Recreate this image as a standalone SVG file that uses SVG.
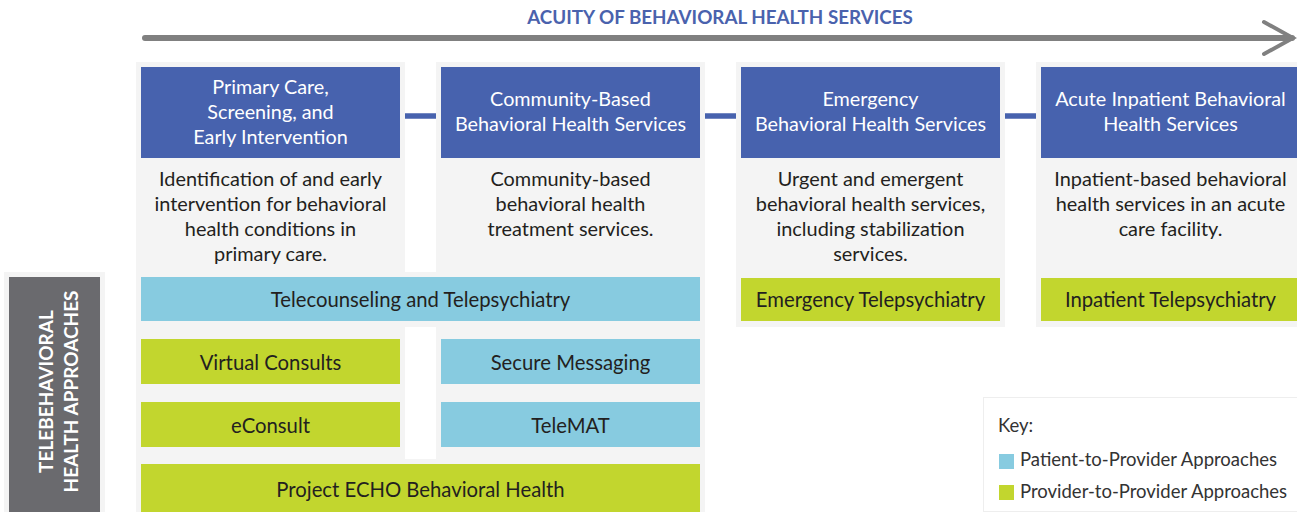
<svg xmlns="http://www.w3.org/2000/svg" width="1297" height="512" viewBox="0 0 1297 512">
<style>
.bg{fill:#f4f4f4}
.hd{fill:#4762ae}
.pt{fill:#87cbe0}
.pp{fill:#c2d62e}
.ht{font-family:Lato,"Liberation Sans",sans-serif;font-size:19.8px;fill:#ffffff;text-anchor:middle}
.dt{font-family:Lato,"Liberation Sans",sans-serif;font-size:19.9px;fill:#231f20;text-anchor:middle}
.bt{font-family:Lato,"Liberation Sans",sans-serif;font-size:20.3px;fill:#231f20;text-anchor:middle}
.kt{font-family:Lato,"Liberation Sans",sans-serif;font-size:18.5px;fill:#333333}
.conn{stroke:#4762ae;stroke-width:5.5}
</style>
<rect width="1297" height="512" fill="#ffffff"/>
<!-- backgrounds -->
<g id="backgrounds">
<rect class="bg" x="136" y="62" width="269" height="450"/>
<rect class="bg" x="436" y="62" width="269" height="450"/>
<rect class="bg" x="405" y="272" width="31" height="55"/>
<rect class="bg" x="405" y="459" width="31" height="53"/>
<rect class="bg" x="736" y="62" width="269" height="265"/>
<rect class="bg" x="1036" y="62" width="269" height="265"/>
</g>
<!-- title and arrow -->
<g id="acuity-axis">
<text x="720" y="23.5" font-family="Lato,'Liberation Sans',sans-serif" font-size="18.8px" font-weight="bold" fill="#4a62ad" text-anchor="middle">ACUITY OF BEHAVIORAL HEALTH SERVICES</text>
<line x1="145" y1="38" x2="1292" y2="38" stroke="#808080" stroke-width="6" stroke-linecap="round"/>
<polyline points="1264,22 1293,38 1264,54" fill="none" stroke="#808080" stroke-width="4" stroke-linecap="round" stroke-linejoin="miter"/>
</g>
<!-- connectors -->
<g id="connectors">
<line class="conn" x1="405" y1="116" x2="436" y2="116"/>
<line class="conn" x1="705" y1="116" x2="736" y2="116"/>
<line class="conn" x1="1005" y1="116" x2="1036" y2="116"/>
</g>
<!-- service columns -->
<g id="primary-care">
<rect class="hd" x="141" y="67" width="259" height="91"/>
<text class="ht" x="270.5" y="94">Primary Care,</text>
<text class="ht" x="270.5" y="119">Screening, and</text>
<text class="ht" x="270.5" y="144">Early Intervention</text>
<text class="dt" x="270.5" y="186">Identification of and early</text>
<text class="dt" x="270.5" y="211">intervention for behavioral</text>
<text class="dt" x="270.5" y="236">health conditions in</text>
<text class="dt" x="270.5" y="261">primary care.</text>
</g>
<g id="community-based">
<rect class="hd" x="441" y="67" width="259" height="91"/>
<text class="ht" x="570.5" y="106">Community-Based</text>
<text class="ht" x="570.5" y="131">Behavioral Health Services</text>
<text class="dt" x="570.5" y="186">Community-based</text>
<text class="dt" x="570.5" y="211">behavioral health</text>
<text class="dt" x="570.5" y="236">treatment services.</text>
</g>
<g id="emergency">
<rect class="hd" x="741" y="67" width="259" height="91"/>
<text class="ht" x="870.5" y="106">Emergency</text>
<text class="ht" x="870.5" y="131">Behavioral Health Services</text>
<text class="dt" x="870.5" y="186">Urgent and emergent</text>
<text class="dt" x="870.5" y="211">behavioral health services,</text>
<text class="dt" x="870.5" y="236">including stabilization</text>
<text class="dt" x="870.5" y="261">services.</text>
</g>
<g id="acute-inpatient">
<rect class="hd" x="1041" y="67" width="259" height="91"/>
<text class="ht" x="1170.5" y="106">Acute Inpatient Behavioral</text>
<text class="ht" x="1170.5" y="131">Health Services</text>
<text class="dt" x="1170.5" y="186">Inpatient-based behavioral</text>
<text class="dt" x="1170.5" y="211">health services in an acute</text>
<text class="dt" x="1170.5" y="236">care facility.</text>
</g>
<!-- approaches -->
<g id="telecounseling">
<rect class="pt" x="141" y="277" width="559" height="44"/>
<text class="bt" x="420.5" y="307">Telecounseling and Telepsychiatry</text>
</g>
<g id="emergency-telepsychiatry">
<rect class="pp" x="741" y="278" width="259" height="43"/>
<text class="bt" x="870.5" y="307">Emergency Telepsychiatry</text>
</g>
<g id="inpatient-telepsychiatry">
<rect class="pp" x="1041" y="278" width="259" height="43"/>
<text class="bt" x="1170.5" y="307">Inpatient Telepsychiatry</text>
</g>
<g id="virtual-consults">
<rect class="pp" x="141" y="339" width="259" height="45"/>
<text class="bt" x="270.5" y="370">Virtual Consults</text>
</g>
<g id="secure-messaging">
<rect class="pt" x="441" y="339" width="259" height="45"/>
<text class="bt" x="570.5" y="370">Secure Messaging</text>
</g>
<g id="econsult">
<rect class="pp" x="141" y="402" width="259" height="45"/>
<text class="bt" x="270.5" y="433">eConsult</text>
</g>
<g id="telemat">
<rect class="pt" x="441" y="402" width="259" height="45"/>
<text class="bt" x="570.5" y="433">TeleMAT</text>
</g>
<g id="project-echo">
<rect class="pp" x="141" y="464" width="559" height="48"/>
<text class="bt" x="420.5" y="497">Project ECHO Behavioral Health</text>
</g>
<!-- side label -->
<g id="side-label">
<rect x="4" y="272" width="101" height="240" fill="#f4f4f4"/>
<rect x="9" y="277" width="91" height="235" fill="#6a6a6e"/>
<g font-family="Lato,'Liberation Sans',sans-serif" font-size="19px" font-weight="bold" fill="#ffffff" text-anchor="middle">
<text transform="translate(53,391.5) rotate(-90)">TELEBEHAVIORAL</text>
<text transform="translate(78,391.5) rotate(-90)">HEALTH APPROACHES</text>
</g>
</g>
<!-- key -->
<g id="key">
<rect x="983.5" y="397.5" width="320" height="114" fill="#ffffff" stroke="#eeeeee" stroke-width="1"/>
<text class="kt" x="998" y="432">Key:</text>
<rect x="999" y="454" width="15" height="15" fill="#87cbe0"/>
<text class="kt" x="1020" y="466">Patient-to-Provider Approaches</text>
<rect x="999" y="485" width="15" height="15" fill="#c2d62e"/>
<text class="kt" x="1020" y="498">Provider-to-Provider Approaches</text>
</g>
</svg>
